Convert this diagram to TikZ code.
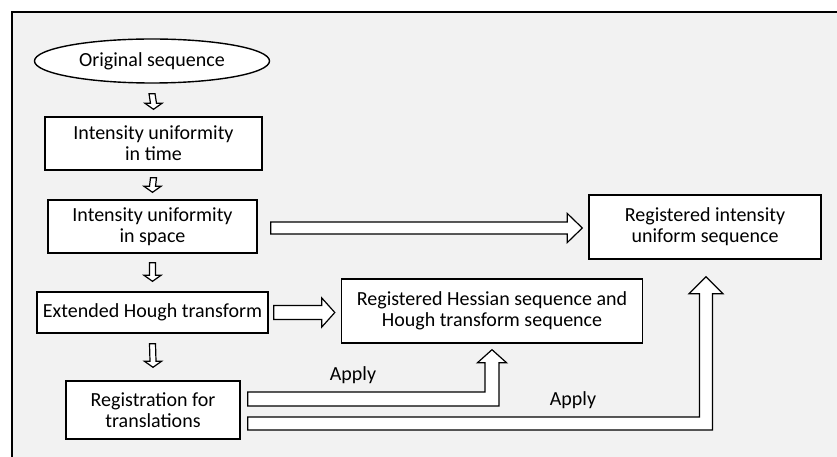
\documentclass[tikz,border=0pt]{standalone}
\usepackage{fontspec}
\setmainfont{Carlito}
\usepackage{tikz}
\usetikzlibrary{calc,shapes.geometric}

\definecolor{panelgray}{HTML}{F2F2F2}

\tikzset{
  stepbox/.style={draw, line width=1.4pt, fill=white, align=center, inner sep=0pt},
  fatarrow/.style={draw, line width=1.2pt, fill=white, line join=miter},
  applylabel/.style={inner sep=0pt}
}

% hollow arrow pointing down: start, tip, shaft half, head half, head length
\newcommand{\fatdown}[5]{%
  \draw[fatarrow] ($(#1)+(-#3,0)$) -- ($(#2)+(-#3,-#5)$) -- ($(#2)+(-#4,-#5)$) -- (#2)
    -- ($(#2)+(#4,-#5)$) -- ($(#2)+(#3,-#5)$) -- ($(#1)+(#3,0)$) -- cycle;}
% hollow arrow pointing right: start, tip (same height)
\newcommand{\fatright}[5]{%
  \draw[fatarrow] ($(#1)+(0,-#3)$) -- ($(#2)+(-#5,-#3)$) -- ($(#2)+(-#5,-#4)$) -- (#2)
    -- ($(#2)+(-#5,#4)$) -- ($(#2)+(-#5,#3)$) -- ($(#1)+(0,#3)$) -- cycle;}
% hollow arrow going right, then up: start, corner, tip
\newcommand{\fatcorner}[6]{%
  \draw[fatarrow] ($(#1)+(0,-#4)$) -- ($(#2)+(-#4,-#4)$) -- ($(#3)+(-#4,#6)$) -- ($(#3)+(-#5,#6)$)
    -- (#3) -- ($(#3)+(#5,#6)$) -- ($(#3)+(#4,#6)$) -- ($(#2)+(#4,#4)$) -- ($(#1)+(0,#4)$) -- cycle;}

\begin{document}
\begin{tikzpicture}[x=1pt, y=-1pt, font=\fontsize{20}{21}\selectfont]
  \useasboundingbox (0,0) rectangle (837,457);

  % panel
  \fill[panelgray] (12,12) rectangle (837,457);
  \draw[line width=1.5pt] (12,457) -- (12,12) -- (837,12);

  % left column
  \node[stepbox, ellipse, minimum width=235, minimum height=44] (orig) at (152,61) {Original sequence};
  \node[stepbox, minimum width=217, minimum height=53] (time) at (153.5,143.5) {Intensity uniformity\\in time};
  \node[stepbox, minimum width=209, minimum height=53] (space) at (152.5,226.5) {Intensity uniformity\\in space};
  \node[stepbox, minimum width=231, minimum height=41] (hough) at (152.5,312.5) {Extended Hough transform};
  \node[stepbox, minimum width=174, minimum height=58] (trans) at (153,410) {Registration for\\translations};

  % results
  \node[stepbox, minimum width=301, minimum height=64] (hess) at (492,311) {Registered Hessian sequence and\\Hough transform sequence};
  \node[stepbox, minimum width=232, minimum height=64] (reg) at (705,227) {Registered intensity\\uniform sequence};

  % small arrows down
  \fatdown{$(orig.south)+(0,10)$}{$(time.north)+(0,-7)$}{3}{8.5}{6}
  \fatdown{$(time.south)+(0,7)$}{$(space.north)+(0,-7)$}{3}{8.5}{6}
  \fatdown{$(space.south)+(0,9)$}{$(hough.north)+(0,-10)$}{3}{8.5}{6}
  \fatdown{$(hough.south)+(0,10)$}{$(trans.north)+(0,-13)$}{3}{8.5}{6}

  % arrows to the right
  \coordinate (s1) at ($(space.east)+(13,1.5)$);
  \coordinate (t1) at ($(s1 -| reg.west)+(-6,0)$);
  \fatright{s1}{t1}{6}{14.5}{15}
  \coordinate (s2) at ($(hough.east)+(5,0)$);
  \coordinate (t2) at ($(s2 -| hess.west)+(-6,0)$);
  \fatright{s2}{t2}{7}{14.5}{13}

  % apply arrows
  \coordinate (s3) at ($(trans.east)+(7,-11)$);
  \coordinate (c3) at (s3 -| hess.south);
  \coordinate (t3) at ($(hess.south)+(0,6)$);
  \fatcorner{s3}{c3}{t3}{7}{14.5}{13}
  \coordinate (s4) at ($(trans.east)+(7,13.5)$);
  \coordinate (c4) at ($(s4 -| reg.south)+(1,0)$);
  \coordinate (t4) at ($(reg.south)+(1,17)$);
  \fatcorner{s4}{c4}{t4}{6.5}{17}{17}

  \node[applylabel] (apply1) at (353,375) {Apply};
  \node[applylabel] (apply2) at (573,400) {Apply};
\end{tikzpicture}
\end{document}
